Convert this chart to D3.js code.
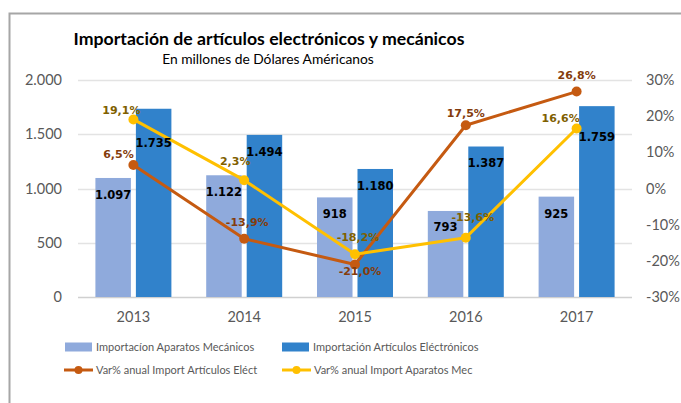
<!DOCTYPE html>
<html lang="es">
<head>
  <meta charset="UTF-8"/>
  <title>Importación de artículos electrónicos y mecánicos</title>
  <script src="https://cdn.jsdelivr.net/npm/d3@7"></script>
  <style>
    body { margin: 0; background: #fff; }
    svg { display: block; }
  </style>
</head>
<body>
<svg id="chart" width="681" height="403"></svg>
<script>
// datos
var years = ["2013", "2014", "2015", "2016", "2017"];
var mecanicos = [1097, 1122, 918, 793, 925];
var electronicos = [1735, 1494, 1180, 1387, 1759];
var varElect = [0.065, -0.139, -0.210, 0.175, 0.268];
var varMec = [0.191, 0.023, -0.182, -0.136, 0.166];
var leftTicks = [0, 500, 1000, 1500, 2000];
var rightTicks = [-0.3, -0.2, -0.1, 0, 0.1, 0.2, 0.3];

// ajustes de etiquetas (como en excel, movidas a mano)
var mecLabelDy = [17, 17, 17, 16, 17];
var elecLabelDy = [34, 17, 17, 16, 31];
var varElectLabelOff = [[-15, -11], [3, -17], [5, 7], [0, -12], [0, -16]];
var varMecLabelOff = [[-12, -9], [-9, -19], [3, -17], [7, -21], [-16, -10]];

var colMec = "#8faadc", colElec = "#3182cb";
var colVarE = "#c55a11", colVarM = "#ffc000";

var es = d3.formatLocale({decimal: ",", thousands: ".", grouping: [3], currency: ["", "€"], minus: "-"});
var fmtNum = es.format(","), fmtPct = es.format(".1%"), fmtTick = es.format(".0%");

var svg = d3.select("#chart");
var font = "Lato, 'Open Sans', sans-serif";

// marco
svg.append("path")
  .attr("d", "M9.5,403V13.5H681")
  .attr("fill", "none").attr("stroke", "#a6a6a6").attr("stroke-width", 2);

// titulo
svg.append("text").attr("x", 269).attr("y", 45).attr("text-anchor", "middle")
  .attr("font-family", font).attr("font-weight", "bold").attr("font-size", 17.7)
  .attr("fill", "#000").text("Importación de artículos electrónicos y mecánicos");
svg.append("text").attr("x", 268).attr("y", 64).attr("text-anchor", "middle")
  .attr("font-family", font).attr("font-size", 13.8)
  .attr("fill", "#000").text("En millones de Dólares Américanos");

// escalas
var x = d3.scaleBand().domain(years).range([78, 632]);
var sub = d3.scaleBand().domain([0, 1]).range([0, x.bandwidth()]).paddingInner(0.123).paddingOuter(0.43);
var y = d3.scaleLinear().domain([0, 2000]).range([297, 80]);
var y2 = d3.scaleLinear().domain([-0.3, 0.3]).range([297, 80]);

// rejilla
svg.append("g").selectAll("line").data(leftTicks).join("line")
  .attr("x1", 78).attr("x2", 632)
  .attr("y1", function(d) { return Math.round(y(d)) + 0.5; })
  .attr("y2", function(d) { return Math.round(y(d)) + 0.5; })
  .attr("stroke", function(d) { return d === 0 ? "#d0d0d0" : "#e3e3e3"; }).attr("stroke-width", 1.3);

// ejes
var axL = svg.append("g").attr("transform", "translate(62,0)")
  .call(d3.axisLeft(y).tickValues(leftTicks).tickFormat(fmtNum).tickSize(0).tickPadding(0));
var axR = svg.append("g").attr("transform", "translate(646,0)")
  .call(d3.axisRight(y2).tickValues(rightTicks).tickFormat(fmtTick).tickSize(0).tickPadding(0));
var axB = svg.append("g").attr("transform", "translate(0,297)")
  .call(d3.axisBottom(x).tickSize(0).tickPadding(15));
[axL, axR, axB].forEach(function(a) {
  a.select(".domain").remove();
  a.selectAll("text").attr("font-family", font).attr("fill", "#595959").attr("font-size", 14.5);
});

// barras
var g = svg.append("g");
g.selectAll("rect.mec").data(mecanicos).join("rect").attr("class", "mec")
  .attr("x", function(d, i) { return x(years[i]) + sub(0); })
  .attr("width", sub.bandwidth())
  .attr("y", function(d) { return y(d); })
  .attr("height", function(d) { return y(0) - y(d); })
  .attr("fill", colMec);
g.selectAll("rect.elec").data(electronicos).join("rect").attr("class", "elec")
  .attr("x", function(d, i) { return x(years[i]) + sub(1); })
  .attr("width", sub.bandwidth())
  .attr("y", function(d) { return y(d); })
  .attr("height", function(d) { return y(0) - y(d); })
  .attr("fill", colElec);

// lineas
function cx(i) { return x(years[i]) + x.bandwidth() / 2; }
var line = d3.line().x(function(d, i) { return cx(i); }).y(function(d) { return y2(d); });

function drawSeries(vals, col) {
  svg.append("path").datum(vals).attr("d", line)
    .attr("fill", "none").attr("stroke", col).attr("stroke-width", 3).attr("stroke-linejoin", "round");
  svg.append("g").selectAll("circle").data(vals).join("circle")
    .attr("cx", function(d, i) { return cx(i); })
    .attr("cy", function(d) { return y2(d); })
    .attr("r", 5).attr("fill", col);
}
drawSeries(varElect, colVarE);
drawSeries(varMec, colVarM);

// etiquetas de datos
var lab = svg.append("g").attr("font-family", "'DejaVu Sans', sans-serif")
  .attr("font-weight", "bold").attr("font-size", 11.5).attr("text-anchor", "middle");
lab.selectAll("text.mec").data(mecanicos).join("text").attr("class", "mec")
  .attr("x", function(d, i) { return x(years[i]) + sub(0) + sub.bandwidth() / 2; })
  .attr("y", function(d, i) { return y(d) + mecLabelDy[i]; })
  .attr("dy", "0.35em").attr("fill", "#000").text(fmtNum);
lab.selectAll("text.elec").data(electronicos).join("text").attr("class", "elec")
  .attr("x", function(d, i) { return x(years[i]) + sub(1) + sub.bandwidth() / 2; })
  .attr("y", function(d, i) { return y(d) + elecLabelDy[i]; })
  .attr("dy", "0.35em").attr("fill", "#000").text(fmtNum);
lab.selectAll("text.ve").data(varElect).join("text").attr("class", "ve")
  .attr("x", function(d, i) { return cx(i) + varElectLabelOff[i][0]; })
  .attr("y", function(d, i) { return y2(d) + varElectLabelOff[i][1]; })
  .attr("dy", "0.35em").attr("font-size", 11).attr("fill", "#843c0c").text(fmtPct);
lab.selectAll("text.vm").data(varMec).join("text").attr("class", "vm")
  .attr("x", function(d, i) { return cx(i) + varMecLabelOff[i][0]; })
  .attr("y", function(d, i) { return y2(d) + varMecLabelOff[i][1]; })
  .attr("dy", "0.35em").attr("font-size", 11).attr("fill", "#7f6000").text(fmtPct);

// leyenda
var legend = [
  {name: "Importacíon Aparatos Mecánicos", col: colMec, type: "bar", x: 65, y: 347},
  {name: "Importación Artículos Eléctrónicos", col: colElec, type: "bar", x: 282, y: 347},
  {name: "Var% anual Import Artículos Eléct", col: colVarE, type: "line", x: 64, y: 370},
  {name: "Var% anual Import Aparatos Mec", col: colVarM, type: "line", x: 282, y: 370}
];
var lg = svg.append("g").selectAll("g").data(legend).join("g")
  .attr("transform", function(d) { return "translate(" + d.x + "," + d.y + ")"; });
lg.filter(function(d) { return d.type === "bar"; }).append("rect")
  .attr("x", 0).attr("y", -4.5).attr("width", 27).attr("height", 9).attr("fill", function(d) { return d.col; });
lg.filter(function(d) { return d.type === "line"; }).append("line")
  .attr("x1", 0).attr("x2", 29).attr("y1", 0).attr("y2", 0)
  .attr("stroke", function(d) { return d.col; }).attr("stroke-width", 3);
lg.filter(function(d) { return d.type === "line"; }).append("circle")
  .attr("cx", 14.5).attr("cy", 0).attr("r", 4).attr("fill", function(d) { return d.col; });
lg.append("text").attr("x", function(d) { return d.type === "bar" ? 31 : 32; }).attr("y", 0).attr("dy", "0.35em")
  .attr("font-family", font).attr("font-size", 11).attr("fill", "#595959")
  .text(function(d) { return d.name; });
</script>
</body>
</html>
